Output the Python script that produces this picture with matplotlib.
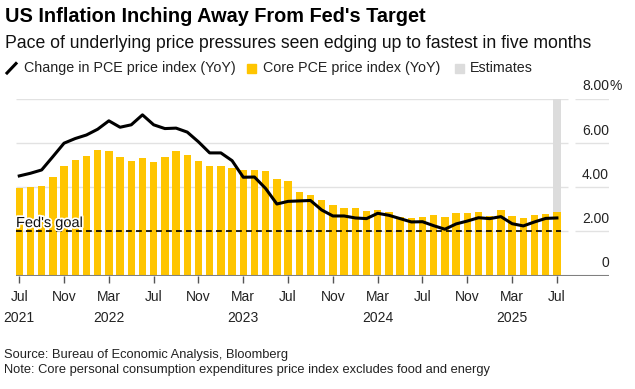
import numpy as np
import pandas as pd
import matplotlib
matplotlib.use("Agg")
import matplotlib.pyplot as plt
import matplotlib.transforms as mtransforms
import matplotlib.patheffects as pe
from matplotlib.lines import Line2D
from matplotlib.patches import Rectangle

# monthly, Jul 2021 .. Jul 2025
months = pd.date_range("2021-07-01", "2025-07-01", freq="MS")

core_pce = [3.98, 4.00, 4.04, 4.46, 4.95, 5.25, 5.41, 5.67, 5.64, 5.35,
            5.19, 5.32, 5.13, 5.37, 5.63, 5.46, 5.20, 4.95, 4.95, 4.87,
            4.77, 4.77, 4.72, 4.37, 4.28, 3.79, 3.65, 3.44, 3.21, 3.05,
            3.06, 2.91, 2.97, 2.87, 2.65, 2.62, 2.65, 2.73, 2.65, 2.82,
            2.84, 2.87, 2.70, 2.96, 2.70, 2.61, 2.75, 2.79, 2.90]

pce = [4.51, 4.63, 4.78, 5.38, 5.99, 6.20, 6.36, 6.62, 7.00, 6.71,
       6.82, 7.27, 6.82, 6.65, 6.67, 6.49, 6.05, 5.55, 5.55, 5.20,
       4.45, 4.46, 3.94, 3.24, 3.36, 3.38, 3.40, 2.97, 2.70, 2.70,
       2.61, 2.58, 2.82, 2.73, 2.58, 2.43, 2.44, 2.26, 2.10, 2.34,
       2.47, 2.62, 2.58, 2.67, 2.35, 2.25, 2.43, 2.59, 2.61]

fed_goal = 2.0
estimate_month = pd.Timestamp("2025-07-01")
y_ticks = [0, 2, 4, 6, 8]
y_labels = ["0", "2.00", "4.00", "6.00", "8.00"]

YELLOW = "#FFC500"
GREY = "#DCDCDC"
GRID = "#E2E2E2"
FONT = "Liberation Sans"

plt.rcParams["font.family"] = [FONT, "DejaVu Sans"]

W, H = 635, 389
fig = plt.figure(figsize=(W / 100, H / 100), dpi=100)
fig.patch.set_facecolor("white")

def fx(px):
    return px / W

def fy(py):
    return 1 - py / H

ax = fig.add_axes([fx(16), fy(275.7), (609 - 16) / W, (275.7 - 98.7) / H])

x = np.arange(len(months))
x0, x1 = -0.29, 52.65
ax.set_xlim(x0, x1)
ax.set_ylim(0, 8)

# gridlines (with small gap before the label column)
for yt in y_ticks[1:]:
    ax.hlines(yt, x0, 48.99, color=GRID, lw=1, zorder=0)
    ax.hlines(yt, 49.62, x1, color=GRID, lw=1, zorder=0)

# estimate band
est_idx = list(months).index(estimate_month)
ax.bar(est_idx, 8, width=0.7, color=GREY, zorder=1)

ax.bar(x, core_pce, width=0.66, color=YELLOW, zorder=2)

ax.hlines(fed_goal, x0, est_idx + 0.34, colors="black", lw=1.2,
          linestyles=(0, (3.5, 2.5)), zorder=3)
ax.text(x0, fed_goal + 0.2, "Fed's goal", fontsize=10.5, color="#111111",
        va="baseline", ha="left", zorder=5,
        path_effects=[pe.withStroke(linewidth=2.5, foreground="white")])

ax.plot(x, pce, color="black", lw=2.2, zorder=4, solid_joinstyle="round")

ax.axhline(0, color="#808080", lw=1.5, zorder=3)

for s in ax.spines.values():
    s.set_visible(False)

# y labels on the right, above gridlines
trans = mtransforms.blended_transform_factory(ax.transAxes, ax.transData)
for yt, lab in zip(y_ticks, y_labels):
    ax.text(1.0, yt + 0.38, lab, transform=trans, ha="right", va="baseline",
            fontsize=10, color="#222222")
ax.text(1.0, 8.38, "%", transform=trans, ha="left", va="baseline",
        fontsize=10, color="#222222")
ax.set_yticks([])

# x ticks every 4 months
tick_pos = x[::4]
tick_labels = []
for m in months[::4]:
    lab = m.strftime("%b")
    if m.month == 3 or m == months[0]:
        lab += "\n" + str(m.year)
    tick_labels.append(lab)
ax.set_xticks(tick_pos)
ax.set_xticklabels(tick_labels, fontsize=10, color="#222222", linespacing=1.65,
                   va="top")
ax.tick_params(axis="x", length=5, width=1, color="#555555", pad=5)

# title, subtitle
fig.text(fx(5), fy(17), "US Inflation Inching Away From Fed's Target",
         fontsize=14.3, fontweight="bold", va="center", ha="left")
fig.text(fx(5), fy(43),
         "Pace of underlying price pressures seen edging up to fastest in five months",
         fontsize=12.7, va="center", ha="left", color="#111111")

# legend
ly = 68
fig.add_artist(Line2D([fx(7), fx(16)], [fy(73), fy(63.5)], color="black",
                      lw=2.2, transform=fig.transFigure))
fig.text(fx(24), fy(ly), "Change in PCE price index (YoY)", fontsize=10.3,
         va="center", ha="left", color="#222222")
fig.add_artist(Rectangle((fx(247), fy(73)), fx(9), 9 / H, color=YELLOW,
                         transform=fig.transFigure))
fig.text(fx(263), fy(ly), "Core PCE price index (YoY)", fontsize=10.3,
         va="center", ha="left", color="#222222")
fig.add_artist(Rectangle((fx(455), fy(73)), fx(9), 9 / H, color=GREY,
                         transform=fig.transFigure))
fig.text(fx(470), fy(ly), "Estimates", fontsize=10.3, va="center", ha="left",
         color="#222222")

# footer
fig.text(fx(4), fy(355), "Source: Bureau of Economic Analysis, Bloomberg",
         fontsize=9.3, va="center", ha="left", color="#222222")
fig.text(fx(4), fy(370),
         "Note: Core personal consumption expenditures price index excludes food and energy",
         fontsize=9.3, va="center", ha="left", color="#222222")

fig.savefig("out.png", dpi=100)
